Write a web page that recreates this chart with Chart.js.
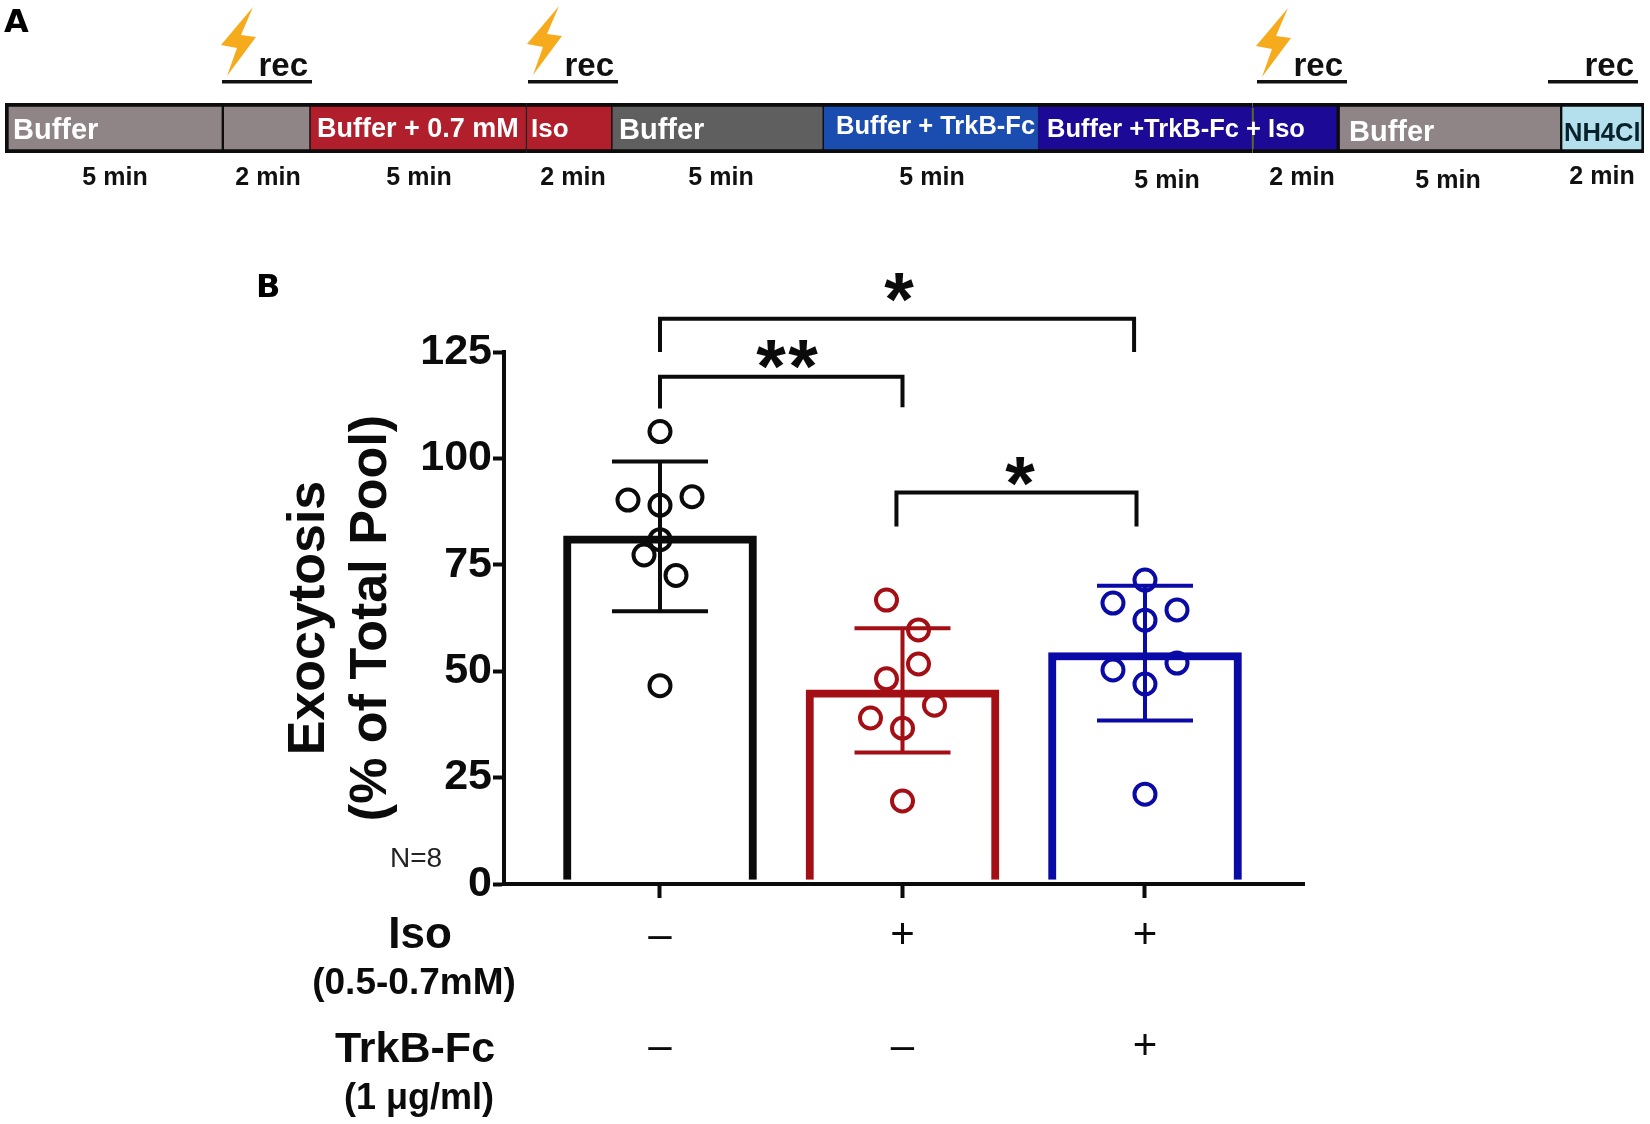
<!DOCTYPE html>
<html>
<head>
<meta charset="utf-8">
<script src="https://cdn.jsdelivr.net/npm/chart.js@4"></script>
<style>
html,body{margin:0;padding:0;background:#fff;width:1650px;height:1124px;overflow:hidden}
canvas{position:absolute;left:0;top:0}
</style>
</head>
<body>
<canvas id="b" width="1650" height="1124"></canvas>
<canvas id="a" width="1650" height="210"></canvas>
<script>
// ---- Panel A data (segment lengths in minutes)
const stepMinutes = [5.05,2.02,5.02,1.98,4.9,4.98,4.98,1.98,5.17,1.92];
const stepMinuteLabels = ['5 min','2 min','5 min','2 min','5 min','5 min','5 min','2 min','5 min','2 min'];
const stepTexts = ['Buffer','Buffer + 0.7 mM','Iso','Buffer','Buffer + TrkB-Fc','Buffer +TrkB-Fc + Iso','Buffer','NH4Cl'];
const recText = 'rec';
// ---- Panel B data
const groups = [1,2,3];
const meanValues = [81.8,45.6,54.4];
const errHigh = [99.3,60.1,70.1];
const errLow = [64.1,30.9,38.4];
const pointsControl = [106.3,90.2,91,89,80.9,77.3,72.5,46.6];
const pointsIso = [66.7,59.7,51.7,48.2,42,39,36.6,19.5];
const pointsIsoTrkB = [71.4,66,64.4,62,51.9,50.3,47,21.1];
const isoMarks = ['\u2013','+','+'];
const trkMarks = ['\u2013','\u2013','+'];
const yTicks = [0,25,50,75,100,125];

// ---- Layout and styles (kept apart from the data)
const BLACK='#0b0b0b', RED='#a30f14', BLUE='#0a0aa6';
const FONT='"Liberation Sans", Arial, sans-serif';
const jitterControl=[0,-0.132,0.132,0,0,-0.066,0.066,0];
const jitterIso=[-0.066,0.066,0.066,-0.066,0.132,-0.132,0,0];
const jitterTrk=[0,-0.132,0.132,0,0.132,-0.132,0,0];
const stepColors=['#8f8486','#8f8486','#b01f2b','#b01f2b','#5f5f60','#1b4db0','#1c0a96','#1c0a96','#8f8486','#b4e0ee'];
const stepBorders=[
 {top:4,bottom:4,left:4,right:1.5},{top:4,bottom:4,left:1.5,right:1},{top:4,bottom:4,left:1,right:1},
 {top:4,bottom:4,left:1,right:1},{top:4,bottom:4,left:1,right:1},{top:4,bottom:4,left:1,right:0.5},
 {top:4,bottom:4,left:0.5,right:0},{top:4,bottom:4,left:0,right:2},{top:4,bottom:4,left:2,right:1.5},
 {top:4,bottom:4,left:1.5,right:3}];
const stepMinuteY=[178,178,178,178,178,178,181,178,181,177];
const stepMinuteX=[115,268,419,573,721,932,1167,1302,1448,1602];
const stepTextStart=[13,317,531,619,836,1047,1349,1564];
const stepTextY=[131,130,130,131,127,130,133,134];
const stepTextSize=[29,27,26,29,25.5,25.5,29,25.5];
const stepTextColor=['#fff','#fff','#fff','#fff','#fff','#fff','#fff','#08222c'];
const recStarts=[222,528,1257,1548];
const boltDx=[0,306,1035];
const boltDy=[0,-1,1];
const boltShape=[[253,7],[221,45],[237,48],[227,76],[256,37],[241,35]];

const panelA={id:'panelA',afterDatasetsDraw(c){
  const ctx=c.ctx;ctx.save();
  const xs=c.scales.x;
  const oliveAt=stepMinutes.slice(0,7).reduce((a,b)=>a+b,0);
  ctx.fillStyle='#5f6a20';ctx.fillRect(xs.getPixelForValue(oliveAt)-1,108,2,41);
  ctx.textBaseline='middle';
  stepTexts.forEach((t,i)=>{
    ctx.font='bold '+stepTextSize[i]+'px '+FONT;ctx.fillStyle=stepTextColor[i];ctx.textAlign='left';
    ctx.fillText(t,stepTextStart[i],stepTextY[i]);
  });
  ctx.font='bold 25px '+FONT;ctx.fillStyle='#111';ctx.textAlign='center';
  stepMinuteLabels.forEach((t,i)=>ctx.fillText(t,stepMinuteX[i],stepMinuteY[i]));
  recStarts.forEach(x=>{
    ctx.fillStyle='#111';ctx.fillRect(x,80,90,3.5);
    ctx.font='bold 33px '+FONT;ctx.textAlign='right';
    ctx.fillText(recText,x+86,67);
  });
  boltDx.forEach((dx,i)=>{
    ctx.fillStyle='#f5ab1c';ctx.beginPath();
    boltShape.forEach((p,j)=>{const X=p[0]+dx,Y=p[1]+boltDy[i];j?ctx.lineTo(X,Y):ctx.moveTo(X,Y);});
    ctx.closePath();ctx.fill();
  });
  ctx.fillStyle='#000';ctx.font='bold 32px "DejaVu Sans"';ctx.textAlign='left';ctx.textBaseline='alphabetic';
  ctx.fillText('A',4,32);
  ctx.restore();
}};

new Chart(document.getElementById('a'),{
  type:'bar',
  data:{labels:['steps'],datasets:stepMinutes.map((m,i)=>({
    data:[m],backgroundColor:stepColors[i],borderColor:'#0c0c0c',borderWidth:stepBorders[i],borderSkipped:false,
    barPercentage:1,categoryPercentage:1,stack:'t'}))},
  options:{indexAxis:'y',responsive:false,animation:false,devicePixelRatio:1,
    layout:{padding:{left:5,right:6,top:103,bottom:57}},
    plugins:{legend:{display:false},tooltip:{enabled:false}},
    scales:{x:{display:false,stacked:true,min:0,max:38},y:{display:false,stacked:true}}},
  plugins:[panelA]
});

const brackets=[
  {x0:1,x1:2.955,top:132.8,endL:125,endR:125},
  {x0:1,x1:2,top:119.2,endL:111.7,endR:112},
  {x0:1.975,x1:2.965,top:92,endL:84,endR:84}
];
const stars=[['*',899],['*',771],['*',803],['*',1020]];
const starY=[324.5,391.5,391.5,508.5];
const sideLabels=[['Iso',420,936,44],['(0.5-0.7mM)',414,984,37],['TrkB-Fc',415,1050,43],['(1 \u03bcg/ml)',419,1099,36]];

const panelB={id:'panelB',afterDatasetsDraw(c){
  const ctx=c.ctx,xs=c.scales.x,ys=c.scales.y;ctx.save();
  const cols=[BLACK,RED,BLUE];
  groups.forEach((g,i)=>{
    const X=xs.getPixelForValue(g),h=ys.getPixelForValue(errHigh[i]),l=ys.getPixelForValue(errLow[i]);
    ctx.strokeStyle=cols[i];ctx.lineWidth=4;ctx.beginPath();
    ctx.moveTo(X,h);ctx.lineTo(X,l);
    ctx.moveTo(X-48,h);ctx.lineTo(X+48,h);
    ctx.moveTo(X-48,l);ctx.lineTo(X+48,l);
    ctx.stroke();
  });
  ctx.strokeStyle=BLACK;ctx.lineWidth=4;ctx.lineJoin='miter';
  brackets.forEach(b=>{
    ctx.beginPath();
    ctx.moveTo(xs.getPixelForValue(b.x0),ys.getPixelForValue(b.endL));
    ctx.lineTo(xs.getPixelForValue(b.x0),ys.getPixelForValue(b.top));
    ctx.lineTo(xs.getPixelForValue(b.x1),ys.getPixelForValue(b.top));
    ctx.lineTo(xs.getPixelForValue(b.x1),ys.getPixelForValue(b.endR));
    ctx.stroke();
  });
  ctx.fillStyle=BLACK;ctx.textAlign='center';ctx.textBaseline='alphabetic';
  ctx.font='bold 76px '+FONT;
  stars.forEach((s,i)=>ctx.fillText(s[0],s[1],starY[i]));
  ctx.textBaseline='middle';
  sideLabels.forEach(s=>{ctx.font='bold '+s[3]+'px '+FONT;ctx.fillText(s[0],s[1],s[2]);});
  ctx.font='28px '+FONT;ctx.fillStyle='#222';ctx.fillText('N=8',416,859);
  ctx.fillStyle='#000';ctx.font='bold 32px "DejaVu Sans"';ctx.textAlign='left';ctx.textBaseline='alphabetic';
  ctx.fillText('B',256,297);
  ctx.restore();
}};

const pts=(g,vals,jit,col)=>({type:'scatter',
  data:vals.map((v,i)=>({x:g+jit[i],y:v})),
  pointStyle:'circle',pointRadius:10.5,pointBorderWidth:4,pointBorderColor:col,pointBackgroundColor:'rgba(0,0,0,0)',
  showLine:false,clip:false,order:1});

new Chart(document.getElementById('b'),{
  type:'bar',
  data:{datasets:[
    {type:'bar',data:groups.map((g,i)=>({x:g,y:[1,meanValues[i]]})),
     backgroundColor:'#fff',borderColor:[BLACK,RED,BLUE],borderWidth:8,borderSkipped:'bottom',
     barThickness:193,order:2},
    pts(1,pointsControl,jitterControl,BLACK),
    pts(2,pointsIso,jitterIso,RED),
    pts(3,pointsIsoTrkB,jitterTrk,BLUE)
  ]},
  options:{responsive:false,animation:false,devicePixelRatio:1,
    layout:{padding:{left:278,right:346,top:352,bottom:0}},
    plugins:{legend:{display:false},tooltip:{enabled:false}},
    scales:{
      x:{type:'linear',position:'bottom',min:0.3567,max:3.6557,offset:false,
        afterBuildTicks:a=>{a.ticks=groups.map(v=>({value:v}));},
        afterFit:s=>{s.height=240;},
        grid:{offset:false,drawOnChartArea:false,drawTicks:true,tickLength:14,tickWidth:4,tickColor:BLACK},
        border:{display:true,color:BLACK,width:4},
        ticks:{autoSkip:false,maxRotation:0,padding:-17,color:BLACK,
          font:{family:'Liberation Sans',weight:'normal',size:42,lineHeight:2.64},
          callback:(v,i)=>[isoMarks[i],trkMarks[i]]}},
      y:{type:'linear',position:'left',min:0,max:125,
        afterBuildTicks:a=>{a.ticks=yTicks.map(v=>({value:v}));},
        afterFit:s=>{s.width=226;},
        grid:{drawOnChartArea:false,drawTicks:true,tickLength:11,tickWidth:4,tickColor:BLACK},
        border:{display:true,color:BLACK,width:4},
        ticks:{padding:1,color:BLACK,font:{family:'Liberation Sans',weight:'bold',size:43}},
        title:{display:true,text:['Exocytosis','(% of Total Pool)'],color:BLACK,padding:0,
          font:{family:'Liberation Sans',weight:'bold',size:52,lineHeight:1.2}}}
    }},
  plugins:[panelB]
});
</script>
</body>
</html>
